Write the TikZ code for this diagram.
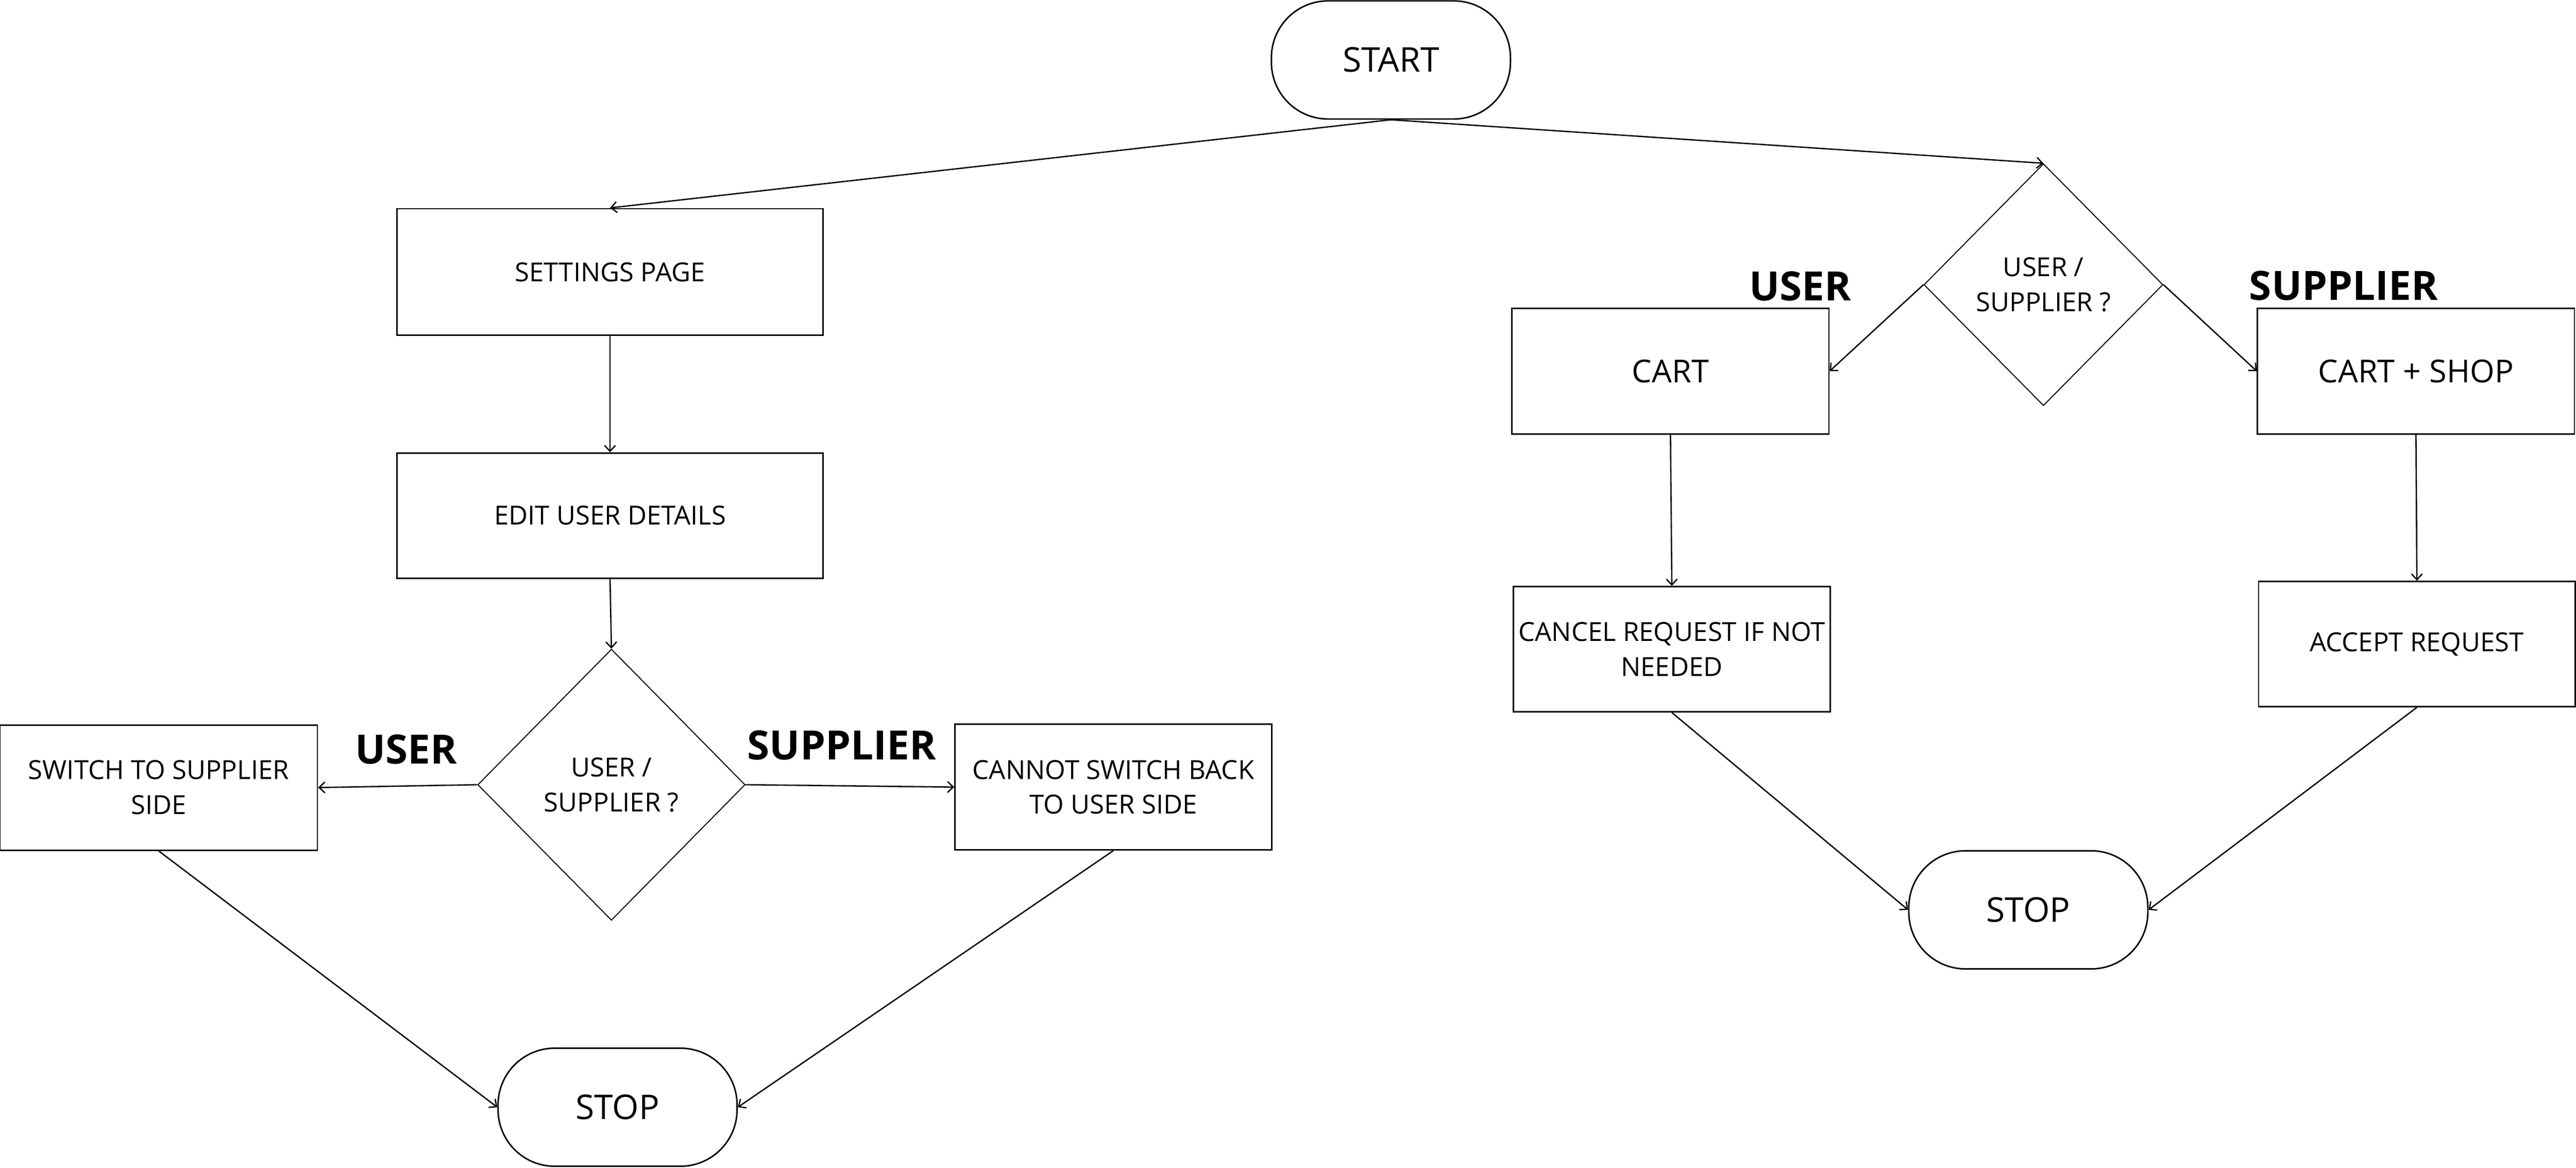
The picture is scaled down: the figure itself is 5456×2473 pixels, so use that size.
\documentclass[tikz,border=0pt]{standalone}
\usepackage{fontspec}
\setmainfont{Open Sans}
\usetikzlibrary{shapes.geometric,arrows.meta}
\begin{document}
\begin{tikzpicture}[x=0.01cm,y=-0.01cm,
  smallfont/.style={font=\fontsize{15.8}{21}\selectfont},
  bigfont/.style={font=\fontsize{19}{24}\selectfont},
  box/.style={draw,line width=0.9pt,rectangle,inner sep=0pt,align=center,smallfont},
  term/.style={draw,line width=0.9pt,rectangle,rounded corners=1.2cm,inner sep=0pt,
    minimum width=5.06cm,minimum height=2.5cm,font=\fontsize{20.5}{24}\selectfont},
  dia/.style={draw,line width=0.6pt,diamond,inner sep=0pt,align=center,smallfont},
  lbl/.style={inner sep=0pt,font=\fontsize{24.3}{28}\selectfont\bfseries},
  conn/.style={line width=0.8pt,-{Straight Barb[length=3.5pt,width=6.5pt]}}
]
\useasboundingbox (0,0) rectangle (5456,2473);

% left branch
\node[term] (start) at (2946,127) {START};
\node[box,minimum width=9.01cm,minimum height=2.68cm] (settings) at (1292,576) {SETTINGS PAGE};
\node[box,minimum width=9.01cm,minimum height=2.65cm] (edit) at (1292,1092) {EDIT USER DETAILS};
\node[dia,minimum width=5.66cm,minimum height=5.74cm] (ldia) at (1295,1662) {USER /\\SUPPLIER ?};
\node[box,minimum width=6.72cm,minimum height=2.65cm] (switch) at (336,1668) {SWITCH TO SUPPLIER\\SIDE};
\node[box,minimum width=6.70cm,minimum height=2.66cm] (cannot) at (2358,1667) {CANNOT SWITCH BACK\\TO USER SIDE};
\node[term] (stopl) at (1308,2345) {STOP};
\node[lbl] (lu) at (860,1587) {USER};
\node[lbl] (ls) at (1783,1578) {SUPPLIER};

% right branch
\node[dia,minimum width=5.06cm,minimum height=5.12cm] (rdia) at (4328,603) {USER /\\SUPPLIER ?};
\node[box,bigfont,minimum width=6.71cm,minimum height=2.66cm] (cart) at (3538,786) {CART};
\node[box,bigfont,minimum width=6.71cm,minimum height=2.66cm] (cartshop) at (5117,786) {CART + SHOP};
\node[box,minimum width=6.70cm,minimum height=2.65cm] (cancel) at (3541,1375) {CANCEL REQUEST IF NOT\\NEEDED};
\node[box,minimum width=6.70cm,minimum height=2.65cm] (accept) at (5119,1364) {ACCEPT REQUEST};
\node[term] (stopr) at (4296,1927) {STOP};
\node[lbl] (ru) at (3813,606) {USER};
\node[lbl] (rs) at (4964,605) {SUPPLIER};

% connectors
\draw[conn] (start.south) -- (settings.north);
\draw[conn] (start.south) -- (rdia.north);
\draw[conn] (settings.south) -- (edit.north);
\draw[conn] (edit.south) -- (ldia.north);
\draw[conn] (ldia.west) -- (switch.east);
\draw[conn] (ldia.east) -- (cannot.west);
\draw[conn] (switch.south) -- (stopl.west);
\draw[conn] (cannot.south) -- (stopl.east);
\draw[conn] (rdia.west) -- (cart.east);
\draw[conn] (rdia.east) -- (cartshop.west);
\draw[conn] (cart.south) -- (cancel.north);
\draw[conn] (cartshop.south) -- (accept.north);
\draw[conn] (cancel.south) -- (stopr.west);
\draw[conn] (accept.south) -- (stopr.east);
\end{tikzpicture}
\end{document}
